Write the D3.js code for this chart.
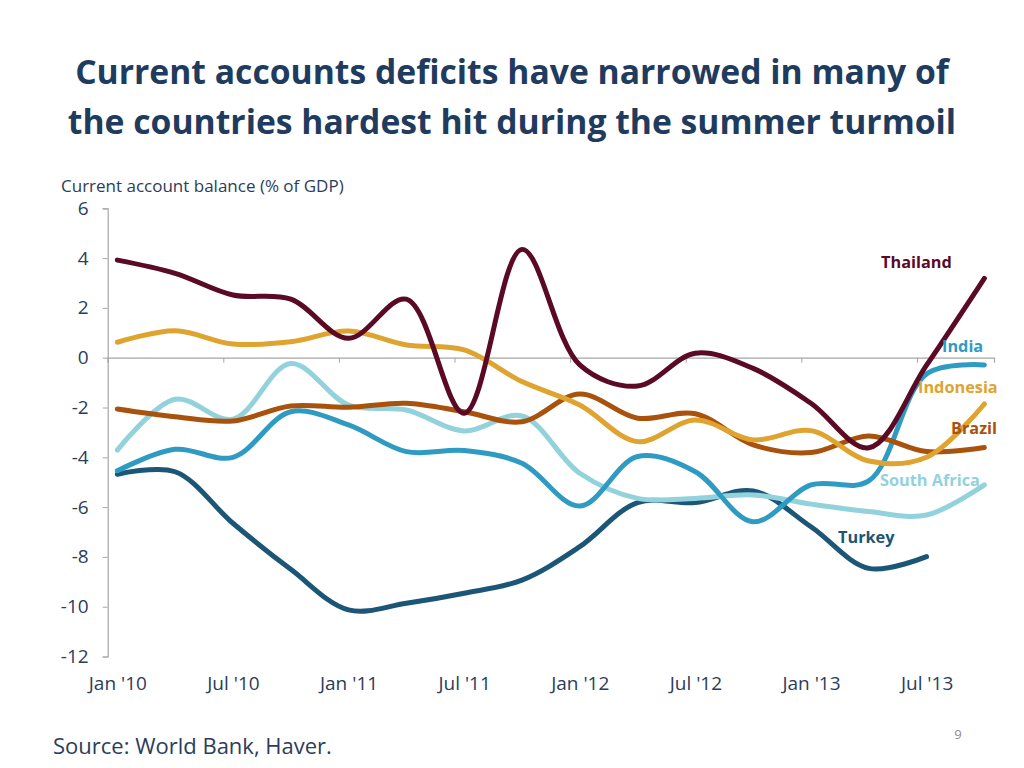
<!DOCTYPE html>
<html>
<head>
<meta charset="utf-8">
<script src="https://cdn.jsdelivr.net/npm/d3@7"></script>
<style>
  html, body { margin: 0; padding: 0; background: #ffffff; }
  svg { display: block; }
  text { font-family: "Open Sans", Lato, sans-serif; }
</style>
</head>
<body>
<svg id="chart" width="1024" height="768"></svg>
<script>
// ---- Data (quarterly observations, % of GDP) ----
const quarters = ["2010-01","2010-04","2010-07","2010-10","2011-01","2011-04","2011-07","2011-10",
                  "2012-01","2012-04","2012-07","2012-10","2013-01","2013-04","2013-07","2013-10"];
const thailand    = [3.92, 3.39, 2.52, 2.35, 0.78, 2.35, -2.23, 4.35, -0.29, -1.14, 0.18, -0.43, -1.83, -3.62, -0.3, 3.19];
const indonesia   = [0.62, 1.08, 0.55, 0.64, 1.07, 0.51, 0.31, -0.96, -1.9, -3.37, -2.5, -3.3, -2.93, -4.15, -4.0, -1.86];
const brazil      = [-2.06, -2.37, -2.54, -1.94, -1.99, -1.83, -2.17, -2.57, -1.46, -2.43, -2.25, -3.5, -3.81, -3.14, -3.77, -3.61];
const india       = [-4.54, -3.68, -4.0, -2.17, -2.7, -3.77, -3.73, -4.24, -5.96, -3.97, -4.58, -6.59, -5.11, -4.95, -0.65, -0.29];
const southAfrica = [-3.71, -1.67, -2.47, -0.23, -1.9, -2.1, -2.94, -2.34, -4.64, -5.65, -5.65, -5.51, -5.88, -6.18, -6.32, -5.11];
const turkey      = [-4.68, -4.58, -6.65, -8.5, -10.13, -9.86, -9.46, -8.93, -7.59, -5.82, -5.82, -5.35, -6.79, -8.46, -7.99];
const seriesNames = ["Thailand", "Indonesia", "Brazil", "India", "South Africa", "Turkey"];
const xTickLabels = ["Jan '10","Jul '10","Jan '11","Jul '11","Jan '12","Jul '12","Jan '13","Jul '13"];
const yTicks = [6, 4, 2, 0, -2, -4, -6, -8, -10, -12];

// ---- Styles ----
const colors = {
  "Thailand": "#5b0a26",
  "Indonesia": "#dea42f",
  "Brazil": "#a9520d",
  "India": "#2f9bc2",
  "South Africa": "#92d2dc",
  "Turkey": "#1b5676"
};
const labelPos = {
  "Thailand":     {x: 881, y: 262},
  "India":        {x: 942, y: 346},
  "Indonesia":    {x: 918, y: 387},
  "Brazil":       {x: 951, y: 428},
  "South Africa": {x: 880, y: 480},
  "Turkey":       {x: 838, y: 537}
};
const valuesByName = {
  "Thailand": thailand, "Indonesia": indonesia, "Brazil": brazil,
  "India": india, "South Africa": southAfrica, "Turkey": turkey
};

const svg = d3.select("#chart");
const textColor = "#2b3d5a";

// month index from "YYYY-MM"
const monthIndex = s => (+s.slice(0,4) - 2010) * 12 + (+s.slice(5,7) - 1);

const x = d3.scaleLinear().domain([-0.5, 45.5]).range([107.7, 994]);
const y = d3.scaleLinear().domain([-12, 6]).range([656.5, 208.3]);

// ---- Title ----
const title = svg.append("text")
  .attr("x", 512).attr("text-anchor", "middle")
  .attr("fill", "#1f3b5e").attr("font-weight", "bold")
  .attr("font-size", 33.7);
title.append("tspan").attr("x", 512).attr("y", 84).text("Current accounts deficits have narrowed in many of");
title.append("tspan").attr("x", 512).attr("y", 134).text("the countries hardest hit during the summer turmoil");

// axis title
svg.append("text").attr("x", 61).attr("y", 192)
  .attr("font-size", 17).attr("fill", textColor)
  .text("Current account balance (% of GDP)");

// ---- Y axis ----
const yAxis = svg.append("g").attr("transform", `translate(${x(-0.5)},0)`)
  .call(d3.axisLeft(y).tickValues(yTicks).tickSize(5).tickPadding(14).tickFormat(d => String(d)));
yAxis.select(".domain").attr("stroke", "#a6a6a6").attr("stroke-width", 1.2);
yAxis.selectAll(".tick line").attr("stroke", "#a6a6a6");
yAxis.selectAll(".tick text").attr("font-size", 19).attr("fill", textColor)
  .attr("font-family", "'Open Sans', Lato, sans-serif");

// ---- X axis line at zero with tick marks at half-year boundaries ----
const tickBounds = xTickLabels.map((d, i) => i * 6 - 0.5);
const xAxis = svg.append("g").attr("transform", `translate(0,${y(0)})`)
  .call(d3.axisBottom(x).tickValues(tickBounds).tickSize(5).tickFormat(""));
xAxis.select(".domain").attr("stroke", "#a6a6a6").attr("stroke-width", 1.2);
xAxis.selectAll(".tick line").attr("stroke", "#a6a6a6");

// ---- X labels at bottom ----
const labelScale = d3.scalePoint().domain(xTickLabels)
  .range([x(0), x(42)]);
const xLab = svg.append("g").attr("transform", `translate(0,${y(-12)})`)
  .call(d3.axisBottom(labelScale).tickSize(0).tickPadding(20));
xLab.select(".domain").remove();
xLab.selectAll(".tick text").attr("font-size", 19).attr("fill", textColor)
  .attr("font-family", "'Open Sans', Lato, sans-serif");

// ---- Lines ----
const line = d3.line()
  .x(d => x(d.m)).y(d => y(d.v))
  .curve(d3.curveCatmullRom.alpha(0.5));

const drawOrder = ["Turkey", "South Africa", "India", "Brazil", "Indonesia", "Thailand"];
drawOrder.forEach(name => {
  const vals = valuesByName[name];
  const pts = vals.map((v, i) => ({m: monthIndex(quarters[i]), v}));
  svg.append("path").datum(pts)
    .attr("d", line)
    .attr("fill", "none")
    .attr("stroke", colors[name])
    .attr("stroke-width", 5)
    .attr("stroke-linecap", "round")
    .attr("stroke-linejoin", "round");
});

// ---- Series labels ----
seriesNames.forEach(name => {
  svg.append("text")
    .attr("x", labelPos[name].x).attr("y", labelPos[name].y)
    .attr("dy", "0.35em")
    .attr("font-size", 16.3).attr("font-weight", "bold")
    .attr("fill", colors[name])
    .text(name);
});

// ---- Source & page number ----
svg.append("text").attr("x", 53).attr("y", 754)
  .attr("font-size", 22).attr("fill", textColor)
  .text("Source: World Bank, Haver.");
svg.append("text").attr("x", 958).attr("y", 739)
  .attr("text-anchor", "middle")
  .attr("font-size", 13).attr("fill", "#8c8c8c")
  .text("9");
</script>
</body>
</html>
